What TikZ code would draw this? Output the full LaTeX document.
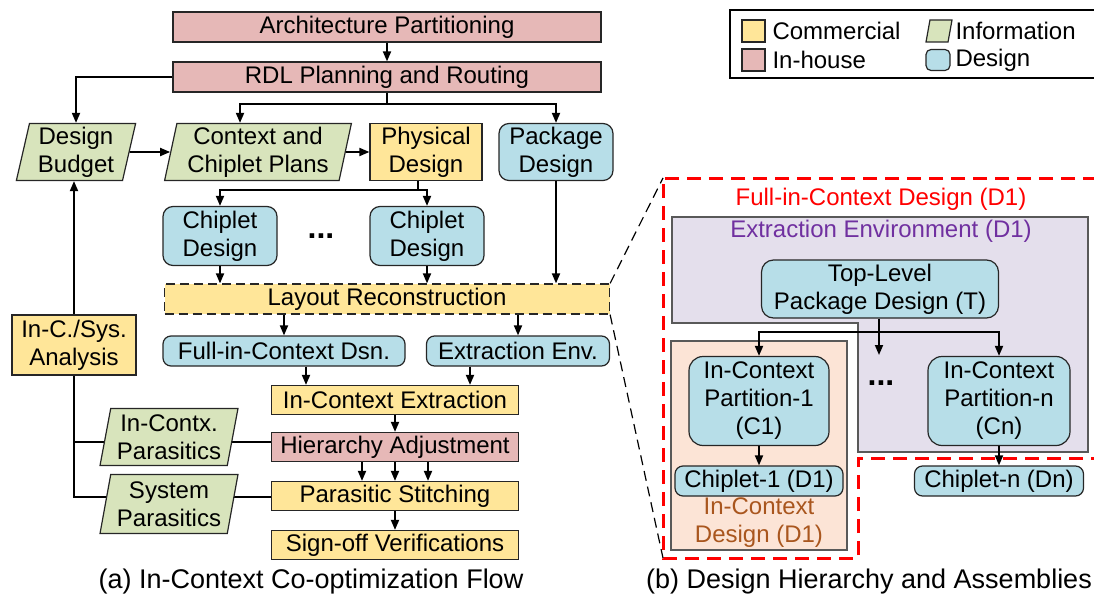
\documentclass[tikz,border=0pt]{standalone}
\usepackage{fontspec}
\setmainfont{Liberation Sans}
\usetikzlibrary{arrows.meta,shapes.geometric,calc}
\definecolor{comm}{HTML}{FFE699}
\definecolor{inh}{HTML}{E6B8B7}
\definecolor{info}{HTML}{D8E4BC}
\definecolor{dsn}{HTML}{B7DEE8}
\definecolor{envc}{HTML}{E4DFEC}
\definecolor{icd}{HTML}{FCE4D6}
\definecolor{redd}{HTML}{FF0000}
\definecolor{purp}{HTML}{7030A0}
\definecolor{brn}{HTML}{A9561E}
\pgfdeclarelayer{bg}
\pgfsetlayers{bg,main}
\begin{document}
\begin{tikzpicture}[x=1pt,y=-1pt,
  font=\fontsize{24}{28}\selectfont,
  box/.style={draw=black!85, line width=1.2pt, inner sep=0pt, align=center},
  combox/.style={box, fill=comm},
  inhbox/.style={box, fill=inh},
  dsnbox/.style={box, fill=dsn, rounded corners=10pt},
  infobox/.style={box, fill=info, shape=trapezium, trapezium left angle=78,
     trapezium right angle=102, trapezium stretches=true},
  dotsnode/.style={font=\fontsize{32}{32}\selectfont\bfseries, inner sep=0pt},
  arr/.style={-{Triangle[length=10pt,width=8pt]}, line width=1.8pt},
  plain/.style={line width=1.8pt},
  zoomline/.style={line width=1.2pt, dash pattern=on 10pt off 6pt},
]
\useasboundingbox (0,0) rectangle (1094,607);

% ---------- (a) flow ----------
\node[inhbox, minimum width=428pt, minimum height=30pt] (arch) at (387,27) {Architecture Partitioning};
\node[inhbox, minimum width=428pt, minimum height=30pt] (rdl) at (387,77) {RDL Planning and Routing};
\node[infobox, minimum width=120pt, minimum height=57pt] (budget) at (76,152) {Design\\Budget};
\node[infobox, minimum width=187pt, minimum height=57pt] (plans) at (258,152) {Context and\\Chiplet Plans};
\node[combox, minimum width=112pt, minimum height=57pt] (phys) at (426,152) {Physical\\Design};
\node[dsnbox, minimum width=114pt, minimum height=57pt] (pkg) at (556,152) {Package\\Design};
\node[dsnbox, minimum width=114pt, minimum height=59pt] (chip1) at (220,236) {Chiplet\\Design};
\node[dotsnode] (dots1) at (321,236) {...};
\node[dsnbox, minimum width=114pt, minimum height=59pt] (chip2) at (427,236) {Chiplet\\Design};
\node[combox, dash pattern=on 9pt off 5pt, minimum width=445pt, minimum height=30pt] (layout) at (387,299) {Layout Reconstruction};
\node[dsnbox, rounded corners=8pt, minimum width=242pt, minimum height=30pt] (fic) at (284,351) {Full-in-Context Dsn.};
\node[dsnbox, rounded corners=8pt, minimum width=183pt, minimum height=30pt] (ext) at (518,351) {Extraction Env.};
\node[combox, minimum width=247pt, minimum height=29pt] (ice) at (395,400) {In-Context Extraction};
\node[inhbox, minimum width=247pt, minimum height=29pt] (hier) at (395,447) {Hierarchy Adjustment};
\node[combox, minimum width=247pt, minimum height=29pt] (stitch) at (395,496) {Parasitic Stitching};
\node[combox, minimum width=247pt, minimum height=29pt] (signoff) at (395,545) {Sign-off Verifications};
\node[combox, minimum width=124pt, minimum height=60pt] (analysis) at (74,345) {In-C./Sys.\\Analysis};
\node[infobox, minimum width=138pt, minimum height=57pt] (icp) at (169,437) {In-Contx.\\Parasitics};
\node[infobox, minimum width=138pt, minimum height=59pt] (sysp) at (169,504) {System\\Parasitics};
\node[font=\fontsize{27}{30}\selectfont] (capa) at (311,582) {(a) In-Context Co-optimization Flow};

\coordinate (rb) at (387,104);
\coordinate (phb) at (418,190);
\coordinate (spT) at (74,442);
\coordinate (spB) at (74,497);

\draw[arr] (arch) -- (rdl);
\draw[arr] (rdl.west) -| (budget.north);
\draw[plain] (rdl.south) -- (rb);
\draw[arr] (rb) -| ([xshift=-18pt]plans.north);
\draw[arr] (rb) -| (pkg.north);
\draw[arr] (budget.east) -- (plans.west);
\draw[arr] (plans.east) -- (phys.west);
\draw[plain] ([xshift=-8pt]phys.south) -- (phb);
\draw[arr] (phb) -| (chip1.north);
\draw[arr] (phb) -| (chip2.north);
\draw[arr] (chip1.south) -- (chip1.south |- layout.north);
\draw[arr] (chip2.south) -- (chip2.south |- layout.north);
\draw[arr] (pkg.south) -- (pkg.south |- layout.north);
\draw[arr] (fic.north |- layout.south) -- (fic.north);
\draw[arr] (ext.north |- layout.south) -- (ext.north);
\draw[arr] ([xshift=22pt]fic.south) -- ([xshift=22pt]fic.south |- ice.north);
\draw[arr] ([xshift=-48pt]ext.south) -- ([xshift=-48pt]ext.south |- ice.north);
\draw[arr] (ice) -- (hier);
\draw[arr] ([xshift=-33pt]hier.south) -- ([xshift=-33pt]stitch.north);
\draw[arr] (hier.south) -- (stitch.north);
\draw[arr] ([xshift=33pt]hier.south) -- ([xshift=33pt]stitch.north);
\draw[arr] (stitch) -- (signoff);
\begin{pgfonlayer}{bg}
\draw[plain] (hier.west |- spT) -- (spT) -- (spB) -- (stitch.west |- spB);
\draw[plain] (spT) -- (analysis.south);
\end{pgfonlayer}
\draw[arr] (analysis.north) -- (analysis.north |- budget.south);

% ---------- legend ----------
\draw[line width=1.3pt] (730,10) rectangle (1097,78);
\node[combox, minimum width=23pt, minimum height=22pt] (lgc) at (753.5,31) {};
\node[anchor=west] (lgct) at (769,31) {Commercial};
\node[inhbox, minimum width=23pt, minimum height=22pt] (lgi) at (753.5,60) {};
\node[anchor=west] (lgit) at (769,60) {In-house};
\node[infobox, inner sep=1pt, font=\tiny, minimum width=26pt, minimum height=22pt] (lgf) at (939,31) {\phantom{x}};
\node[anchor=west] (lgft) at (952,31) {Information};
\node[dsnbox, rounded corners=5pt, minimum width=24pt, minimum height=21pt] (lgd) at (938,60) {};
\node[anchor=west] (lgdt) at (952,60) {Design};

% ---------- (b) hierarchy ----------
\draw[fill=envc, draw=black!65, line width=1.2pt] (672,217) -- (1088,217) -- (1088,452) -- (858,452) -- (858,323) -- (672,323) -- cycle;
\node[draw=black!65, fill=icd, line width=1.2pt, inner sep=0pt, minimum width=176pt, minimum height=209pt] (icdbox) at (759,445.5) {};
\draw[redd, line width=3pt, dash pattern=on 14pt off 8pt] (1097,178) -- (663,178) -- (663,558) -- (858,558) -- (858,458) -- (1097,458);
\node[text=redd] (fulltitle) at (881,199) {Full-in-Context Design (D1)};
\node[text=purp] (envtitle) at (881,231) {Extraction Environment (D1)};
\node[text=brn, align=center] (icdtitle) at (759,523) {In-Context\\Design (D1)};
\node[dsnbox, rounded corners=12pt, minimum width=237pt, minimum height=58pt] (top) at (880,289) {Top-Level\\Package Design (T)};
\node[dsnbox, rounded corners=14pt, minimum width=140pt, minimum height=89pt] (c1) at (759,401) {In-Context\\Partition-1\\(C1)};
\node[dsnbox, rounded corners=14pt, minimum width=142pt, minimum height=89pt] (cn) at (999,401) {In-Context\\Partition-n\\(Cn)};
\node[dotsnode] (dots2) at (881,383) {...};
\node[dsnbox, rounded corners=8pt, minimum width=168pt, minimum height=30pt] (chipone) at (759,481) {Chiplet-1 (D1)};
\node[dsnbox, rounded corners=8pt, minimum width=169pt, minimum height=30pt] (chipn) at (999,481) {Chiplet-n (Dn)};
\node[font=\fontsize{27}{30}\selectfont] (capb) at (869,582) {(b) Design Hierarchy and Assemblies};

\coordinate (tb) at (879,332);
\coordinate (tdots) at (879,355);
\draw[arr] (top.south -| tb) -- (tdots);
\draw[arr] (tb) -| (c1.north);
\draw[arr] (tb) -| (cn.north);
\draw[arr] (c1) -- (chipone);
\draw[arr] (cn) -- (chipn);

\coordinate (zt) at (663,178);
\coordinate (zb) at (663,558);
\draw[zoomline] (layout.north east) -- (zt);
\draw[zoomline] (layout.south east) -- (zb);
\end{tikzpicture}
\end{document}
